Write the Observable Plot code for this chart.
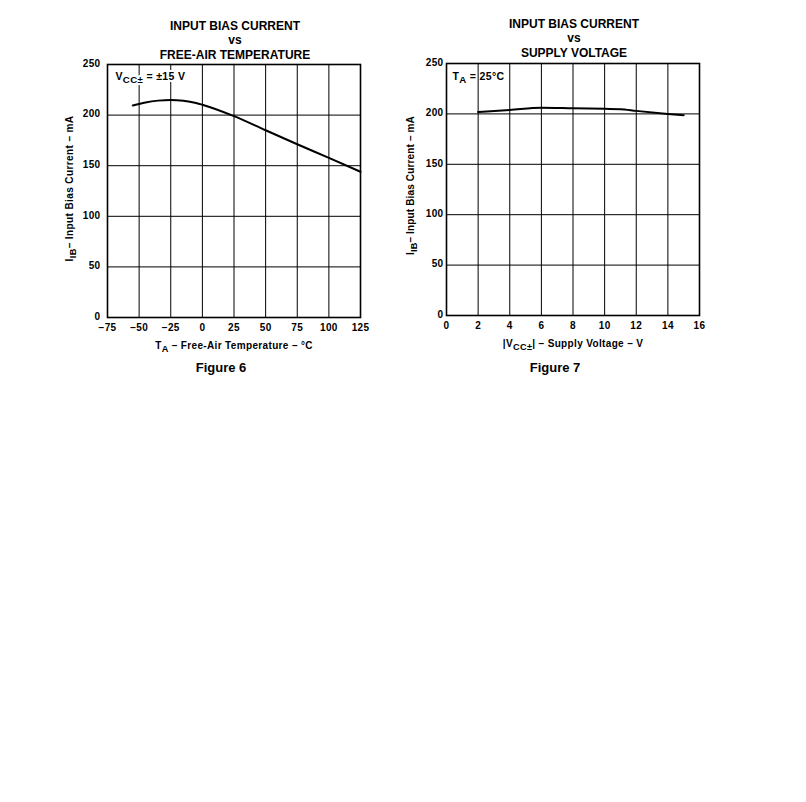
<!DOCTYPE html>
<html>
<head>
<meta charset="utf-8">
<script src="https://cdn.jsdelivr.net/npm/d3@7"></script>
<script src="https://cdn.jsdelivr.net/npm/@observablehq/plot@0.6"></script>
<style>
  html, body { margin: 0; padding: 0; background: #fff; }
  #wrap { position: relative; width: 806px; height: 802px; background: #fff; }
  #wrap > svg { position: absolute; top: 0; }
</style>
</head>
<body>
<div id="wrap"></div>
<script>
// ---- Data ----
const tempC  = [-55, -45, -35, -25, -15, -5, 0, 25, 50, 75, 100, 125];
const ibTemp = [209.5, 212.5, 214.3, 215, 214.2, 212, 210.3, 199, 185, 171.2, 157.7, 144];

const vcc   = [2, 4, 6, 8, 10, 11, 12, 14, 15];
const ibVcc = [201.9, 203.9, 206.2, 205.6, 205, 204.7, 203, 200, 198.7];

const xTicksTemp = [-75, -50, -25, 0, 25, 50, 75, 100, 125];
const xTicksVcc  = [0, 2, 4, 6, 8, 10, 12, 14, 16];
const yTicks     = [0, 50, 100, 150, 200, 250];

const titleTemp = "INPUT BIAS CURRENT\nvs\nFREE-AIR TEMPERATURE";
const titleVcc  = "INPUT BIAS CURRENT\nvs\nSUPPLY VOLTAGE";
const yLabel    = "I{IB}– Input Bias Current – mA";
const xLabelTemp = "T{A} – Free-Air Temperature – °C";
const xLabelVcc  = "|V{CC±}| – Supply Voltage – V";
const noteTemp = "V{CC±} = ±15 V";
const noteVcc  = "T{A} = 25°C";
const figTemp = "Figure 6";
const figVcc  = "Figure 7";

const tempData = tempC.map((t, i) => ({x: t, y: ibTemp[i]}));
const vccData  = vcc.map((v, i) => ({x: v, y: ibVcc[i]}));

const FONT = "'Liberation Sans', Arial, Helvetica, sans-serif";

// Rebuild "{...}" parts of text as subscripts
function applySubscripts(svg) {
  d3.select(svg).selectAll("text").each(function () {
    const el = this;
    if (el.querySelector("tspan")) return;
    const s = el.textContent;
    if (!s.includes("{")) return;
    el.textContent = "";
    const parts = s.split(/(\{[^}]*\})/);
    let shifted = false;
    for (const p of parts) {
      if (!p) continue;
      const t = document.createElementNS("http://www.w3.org/2000/svg", "tspan");
      if (p.startsWith("{")) {
        t.textContent = p.slice(1, -1);
        t.setAttribute("dy", "3");
        t.setAttribute("font-size", "0.92em");
        shifted = true;
      } else {
        t.textContent = p;
        if (shifted) { t.setAttribute("dy", "-3"); shifted = false; }
      }
      el.appendChild(t);
    }
  });
}

function makeChart(cfg) {
  const svg = Plot.plot({
    width: cfg.width,
    height: 380,
    marginLeft: cfg.ml,
    marginRight: cfg.mr,
    marginTop: cfg.mt,
    marginBottom: 380 - cfg.bottom,
    style: {fontFamily: FONT, fontWeight: "bold", fontSize: "10px", color: "black", background: "transparent", overflow: "visible", letterSpacing: "0.35px"},
    x: {domain: cfg.xDomain},
    y: {domain: [0, 250]},
    marks: [
      Plot.gridX(cfg.xTicks, {stroke: "black", strokeOpacity: 1, strokeWidth: 1}),
      Plot.gridY(yTicks, {stroke: "black", strokeOpacity: 1, strokeWidth: 1}),
      Plot.axisX(cfg.xTicks, {tickSize: 0, tickPadding: 6, label: null, fontWeight: "bold"}),
      Plot.axisY(yTicks, {tickSize: 0, tickPadding: cfg.yPad, label: null, fontWeight: "bold", dy: -1}),
      Plot.frame({stroke: "black", strokeWidth: 1.6}),
      Plot.line(cfg.data, {x: "x", y: "y", curve: "monotone-x", stroke: "black", strokeWidth: 2}),
      // note inside the frame
      Plot.text([cfg.note], {frameAnchor: "top-left", textAnchor: "start", lineAnchor: "bottom",
        dx: cfg.noteDx, dy: cfg.noteDy, fontSize: 10.5, fontWeight: "bold", fill: "black",
        stroke: cfg.noteHalo ? "white" : null, strokeWidth: 4}),
      // title
      Plot.text([cfg.title], {frameAnchor: "top", textAnchor: "middle", lineAnchor: "bottom",
        dx: 1, dy: cfg.titleDy, fontSize: 12, lineHeight: 1.2, fontWeight: "bold", fill: "black"}),
      // x label
      Plot.text([cfg.xLabel], {frameAnchor: "bottom", textAnchor: "middle", lineAnchor: "bottom",
        dy: cfg.xLabelDy, fontSize: 10, fontWeight: "bold", fill: "black"}),
      // y label
      Plot.text([yLabel], {frameAnchor: "left", textAnchor: "middle", lineAnchor: "middle", rotate: -90,
        dx: cfg.yLabelDx, dy: cfg.yLabelDy, fontSize: 10, fontWeight: "bold", fill: "black"}),
      // figure caption
      Plot.text([cfg.fig], {frameAnchor: "bottom", textAnchor: "middle", lineAnchor: "bottom",
        dx: cfg.figDx, dy: cfg.figDy, fontSize: 13, fontWeight: "bold", fill: "black"})
    ]
  });
  applySubscripts(svg);
  d3.select(svg).selectAll("text").each(function () {
    const s = this.textContent;
    if (s.includes("INPUT") || s.includes("Figure")) this.style.letterSpacing = "0px";
    if (s === yLabel.replace(/[{}]/g, "")) this.style.letterSpacing = cfg.yLs;
  });
  return svg;
}

const left = makeChart({
  width: 400, ml: 107, mr: 40, mt: 64, bottom: 317,
  xDomain: [-75, 125], xTicks: xTicksTemp, yPad: 7,
  data: tempData,
  note: noteTemp, noteDx: 8, noteDy: 15, noteHalo: true,
  title: titleTemp, titleDy: -6,
  xLabel: xLabelTemp, xLabelDy: 31,
  yLabelDx: -38, yLabelDy: -2.5, yLs: "0.4px",
  fig: figTemp, figDx: -13, figDy: 54
});
left.style.left = "0px";

const right = makeChart({
  width: 406, ml: 46, mr: 107, mt: 63, bottom: 315,
  xDomain: [0, 16], xTicks: xTicksVcc, yPad: 3,
  data: vccData,
  note: noteVcc, noteDx: 6, noteDy: 16, noteHalo: false,
  title: titleVcc, titleDy: -7,
  xLabel: xLabelVcc, xLabelDy: 31,
  yLabelDx: -36, yLabelDy: -4, yLs: "0.15px",
  fig: figVcc, figDx: -18, figDy: 56
});
right.style.left = "400px";

document.getElementById("wrap").append(left, right);
</script>
</body>
</html>
